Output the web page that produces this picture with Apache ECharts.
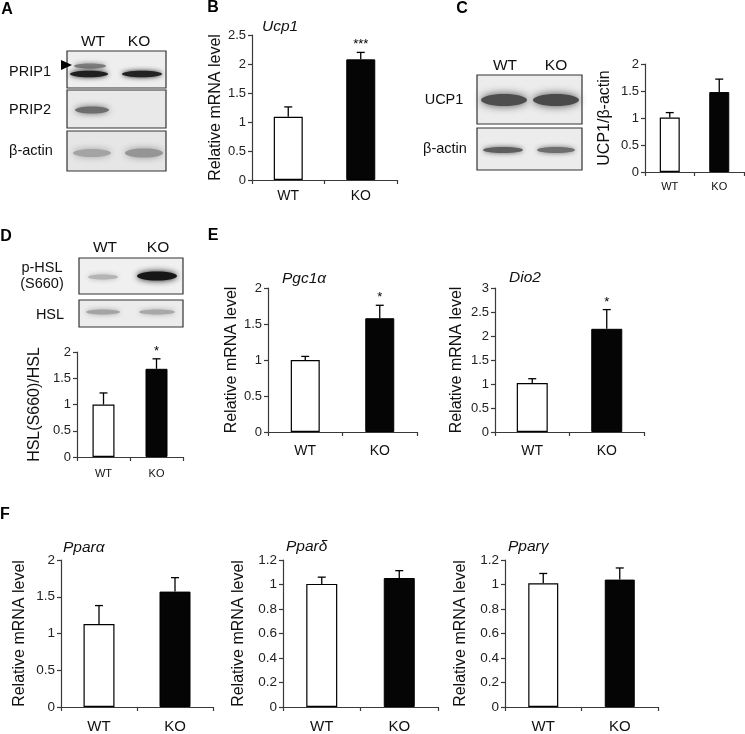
<!DOCTYPE html>
<html><head><meta charset="utf-8">
<script src="https://cdn.jsdelivr.net/npm/echarts@6/dist/echarts.min.js"></script>
<style>html,body{margin:0;padding:0;background:#fff}#c{width:745px;height:734px}</style>
</head><body><div id="c"></div>
<script>
// ---- data ----
const categories = ['WT', 'KO'];

const ucp1Mean = [1.09, 2.08];
const ucp1Err = [0.17, 0.12];
const ucp1Sig = ['', '***'];

const ucp1ProteinMean = [1.01, 1.48];
const ucp1ProteinErr = [0.09, 0.24];
const ucp1ProteinSig = ['', ''];

const pHslMean = [1.0, 1.68];
const pHslErr = [0.22, 0.19];
const pHslSig = ['', '*'];

const pgc1aMean = [1.0, 1.58];
const pgc1aErr = [0.05, 0.18];
const pgc1aSig = ['', '*'];

const dio2Mean = [1.02, 2.15];
const dio2Err = [0.09, 0.40];
const dio2Sig = ['', '*'];

const pparaMean = [1.13, 1.57];
const pparaErr = [0.25, 0.19];
const pparaSig = ['', ''];

const ppardMean = [1.005, 1.053];
const ppardErr = [0.055, 0.06];
const ppardSig = ['', ''];

const ppargMean = [1.01, 1.04];
const ppargErr = [0.08, 0.095];
const ppargSig = ['', ''];

const yMaxB = 2.5, yMaxC = 2, yMaxD = 2, yMaxPgc = 2, yMaxDio = 3, yMaxPpara = 2, yMaxPpard = 1.2, yMaxPparg = 1.2;
const yStepB = 0.5, yStepC = 0.5, yStepD = 0.5, yStepPgc = 0.5, yStepDio = 0.5, yStepPpara = 0.5, yStepPpard = 0.2, yStepPparg = 0.2;

// ---- layout ----
const FONT = '"Liberation Sans", Arial, sans-serif';
const panels = [
  {mean: ucp1Mean, err: ucp1Err, sig: ucp1Sig, max: yMaxB, step: yStepB, grid: {left: 252, top: 35, width: 145, height: 145}, yName: 'Relative mRNA level', nameGap: 26, barW: 29, xFont: 14, xMargin: 9, yFont: 13},
  {mean: ucp1ProteinMean, err: ucp1ProteinErr, sig: ucp1ProteinSig, max: yMaxC, step: yStepC, grid: {left: 645, top: 64, width: 99, height: 108}, yName: 'UCP1/β-actin', nameGap: 32, barW: 20, xFont: 11, xMargin: 9, yFont: 13},
  {mean: pHslMean, err: pHslErr, sig: pHslSig, max: yMaxD, step: yStepD, grid: {left: 77, top: 352, width: 106, height: 105}, yName: 'HSL(S660)/HSL', nameGap: 34, barW: 22, xFont: 11, xMargin: 11, yFont: 13},
  {mean: pgc1aMean, err: pgc1aErr, sig: pgc1aSig, max: yMaxPgc, step: yStepPgc, grid: {left: 268, top: 288, width: 149, height: 144}, yName: 'Relative mRNA level', nameGap: 26, barW: 29, xFont: 14, xMargin: 12, yFont: 13},
  {mean: dio2Mean, err: dio2Err, sig: dio2Sig, max: yMaxDio, step: yStepDio, grid: {left: 495, top: 288, width: 149, height: 144}, yName: 'Relative mRNA level', nameGap: 30, barW: 31, xFont: 14, xMargin: 12, yFont: 13},
  {mean: pparaMean, err: pparaErr, sig: pparaSig, max: yMaxPpara, step: yStepPpara, grid: {left: 61, top: 560, width: 152, height: 149}, yName: 'Relative mRNA level', nameGap: 33, barW: 31, xFont: 15, xMargin: 12, yFont: 13.5},
  {mean: ppardMean, err: ppardErr, sig: ppardSig, max: yMaxPpard, step: yStepPpard, grid: {left: 283, top: 560, width: 155, height: 149}, yName: 'Relative mRNA level', nameGap: 36, barW: 31, xFont: 15, xMargin: 12, yFont: 13.5},
  {mean: ppargMean, err: ppargErr, sig: ppargSig, max: yMaxPparg, step: yStepPparg, grid: {left: 505, top: 560, width: 153, height: 149}, yName: 'Relative mRNA level', nameGap: 36, barW: 30, xFont: 15, xMargin: 12, yFont: 13.5}
];

const grids = [], xAxes = [], yAxes = [], series = [];
const axisColor = '#3a3a3a';
panels.forEach((p, k) => {
  grids.push(Object.assign({containLabel: false}, p.grid));
  xAxes.push({
    type: 'category', gridIndex: k, data: categories,
    axisLine: {lineStyle: {color: axisColor, width: 1.2}},
    axisTick: {show: true, length: 4, lineStyle: {color: axisColor, width: 1.2}},
    axisLabel: {color: '#111', fontSize: p.xFont, fontFamily: FONT, margin: p.xMargin}
  });
  yAxes.push({
    type: 'value', gridIndex: k, min: 0, max: p.max, interval: p.step,
    name: p.yName, nameLocation: 'middle', nameGap: p.nameGap, nameRotate: 90,
    nameTextStyle: {color: '#111', fontSize: 16, fontFamily: FONT},
    splitLine: {show: false},
    axisLine: {show: true, lineStyle: {color: axisColor, width: 1.2}},
    axisTick: {show: true, length: 4, lineStyle: {color: axisColor, width: 1.2}},
    axisLabel: {color: '#222', fontSize: p.yFont, fontFamily: FONT, margin: 6}
  });
  series.push({
    type: 'bar', xAxisIndex: k, yAxisIndex: k, barWidth: p.barW,
    data: p.mean.map((v, i) => ({value: v, itemStyle: i === 0 ? {color: '#fff', borderColor: '#000', borderWidth: 1.2} : {color: '#050505', borderColor: '#000', borderWidth: 1}})),
    animation: false, silent: true
  });
  const sig = p.sig;
  series.push({
    type: 'custom', xAxisIndex: k, yAxisIndex: k, z: 5, animation: false, silent: true, clip: false,
    data: categories.map((c, i) => [i, p.mean[i], p.err[i]]),
    encode: {x: 0, y: 1},
    renderItem: (params, api) => {
      const i = api.value(0), m = api.value(1), e = api.value(2);
      const top = api.coord([i, m + e]);
      const base = api.coord([i, m]);
      const ch = [
        {type: 'line', shape: {x1: top[0], y1: base[1], x2: top[0], y2: top[1]}, style: {stroke: '#000', lineWidth: 1.3}},
        {type: 'line', shape: {x1: top[0] - 4, y1: top[1], x2: top[0] + 4, y2: top[1]}, style: {stroke: '#000', lineWidth: 1.3}}
      ];
      if (sig[i]) ch.push({type: 'text', style: {text: sig[i], x: top[0], y: top[1] - 1, align: 'center', verticalAlign: 'bottom', fontSize: 13, fontFamily: FONT, fill: '#000'}});
      return {type: 'group', children: ch};
    }
  });
});

// ---- graphic decorations (panel letters, gene names, blots) ----
const g = [];
function txt(text, x, y, o) {
  g.push({type: 'text', x: x, y: y, silent: true, style: Object.assign({text: text, fill: '#111', fontSize: 14.5, fontFamily: FONT, align: 'center', verticalAlign: 'middle'}, o || {})});
}
function box(x1, y1, x2, y2, bg) {
  g.push({type: 'rect', silent: true, shape: {x: x1, y: y1, width: x2 - x1, height: y2 - y1}, style: {fill: bg, stroke: '#333', lineWidth: 1.2}});
}
function band(cx, cy, rx, ry, col, blur) {
  g.push({type: 'ellipse', silent: true, shape: {cx: cx, cy: cy, rx: rx, ry: ry}, style: {fill: col, shadowBlur: blur, shadowColor: col}});
}
// letters
[['A', 7, 10], ['B', 213, 8], ['C', 462, 9], ['D', 6, 237], ['E', 213, 236], ['F', 5, 515]].forEach(a => txt(a[0], a[1], a[2], {fontWeight: 'bold', fontSize: 16, fill: '#000'}));
// gene titles
[['Ucp1', 262, 27], ['Pgc1α', 282, 279], ['Dio2', 509, 278], ['Pparα', 63, 548], ['Pparδ', 286, 547], ['Pparγ', 508, 547]].forEach(a => txt(a[0], a[1], a[2], {align: 'left', fontStyle: 'italic', fontSize: 15.5}));

// Blot A
txt('WT', 93, 42, {fontSize: 15.5}); txt('KO', 139, 42, {fontSize: 15.5});
txt('PRIP1', 30, 72); txt('PRIP2', 30, 110); txt('β-actin', 31, 151);
box(67, 51, 166, 88, '#eeeeee');
band(90, 66, 16, 2.5, '#7c7c7c', 5);
band(89, 74, 19, 3.2, '#1e1e1e', 5);
band(142, 74, 20, 3.2, '#222222', 5);
g.push({type: 'polygon', silent: true, shape: {points: [[61, 60], [72, 65], [61, 70]]}, style: {fill: '#000'}});
box(67, 90, 166, 128, '#e9e9e9');
band(92, 110, 17, 3.5, '#6e6e6e', 6);
box(67, 131, 166, 171, '#e6e6e6');
band(92, 153, 19, 4, '#a4a4a4', 7);
band(144, 153, 19, 4.5, '#959595', 7);

// Blot C
txt('WT', 505, 66, {fontSize: 15.5}); txt('KO', 556, 66, {fontSize: 15.5});
txt('UCP1', 444, 100); txt('β-actin', 445, 149);
box(477, 75, 582, 124, '#ececec');
band(504, 100, 23, 6, '#4e4e4e', 8);
band(556, 100, 23, 6, '#4a4a4a', 8);
box(477, 128, 582, 170, '#ececec');
band(503, 150, 20, 3, '#5e5e5e', 5);
band(556, 150, 19, 3, '#6e6e6e', 5);

// Blot D
txt('WT', 105, 248, {fontSize: 15.5}); txt('KO', 158, 248, {fontSize: 15.5});
txt('p-HSL', 42, 268); txt('(S660)', 42, 284); txt('HSL', 50, 315);
box(79, 258, 183, 294, '#f0f0f0');
band(103, 277, 15, 2.5, '#b4b4b4', 5);
band(157, 276, 20, 4.5, '#161616', 6);
box(79, 300, 183, 327, '#ececec');
band(103, 312, 17, 2.5, '#a4a4a4', 5);
band(157, 312, 18, 2.5, '#a8a8a8', 5);

const chart = echarts.init(document.getElementById('c'), null, {renderer: 'canvas'});
chart.setOption({
  animation: false,
  backgroundColor: '#fff',
  grid: grids, xAxis: xAxes, yAxis: yAxes, series: series,
  graphic: g
});
</script>
</body></html>
